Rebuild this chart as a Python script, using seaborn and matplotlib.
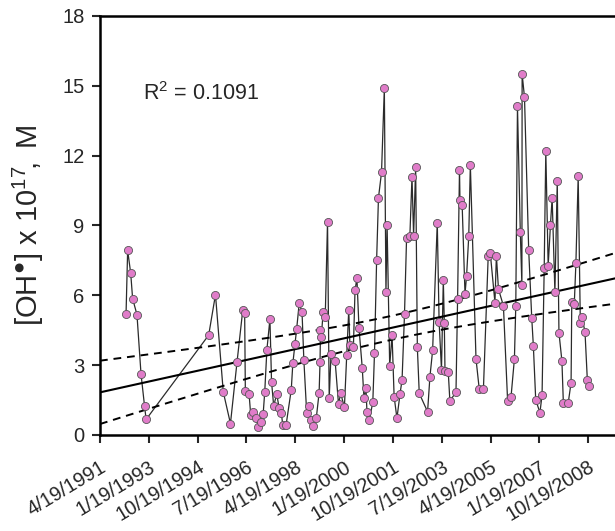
import matplotlib
matplotlib.use("Agg")
import matplotlib.pyplot as plt
import matplotlib.dates as mdates
import numpy as np
import pandas as pd
import seaborn as sns

# sampling dates and [OH] values (x 10^17 M)
dates = [
    "1992-03-25", "1992-04-15", "1992-05-25", "1992-06-19", "1992-08-15", "1992-10-07",
    "1992-11-22", "1992-12-13", "1995-03-12", "1995-06-09", "1995-09-19", "1995-12-22",
    "1996-03-17", "1996-05-31", "1996-06-25", "1996-07-04", "1996-08-22", "1996-09-12",
    "1996-10-16", "1996-11-19", "1996-12-22", "1997-01-25", "1997-02-22", "1997-03-15",
    "1997-04-12", "1997-05-22", "1997-06-12", "1997-07-10", "1997-08-19", "1997-09-19",
    "1997-10-19", "1997-11-06", "1997-12-19", "1998-02-25", "1998-03-18", "1998-04-15",
    "1998-05-07", "1998-06-09", "1998-07-16", "1998-08-09", "1998-09-15", "1998-10-16",
    "1998-11-06", "1998-12-13", "1999-01-19", "1999-02-25", "1999-03-09", "1999-03-15",
    "1999-03-25", "1999-04-19", "1999-05-16", "1999-06-15", "1999-07-07", "1999-07-31",
    "1999-09-22", "1999-11-06", "1999-12-04", "2000-01-22", "2000-02-22", "2000-03-19",
    "2000-04-03", "2000-05-19", "2000-06-09", "2000-07-04", "2000-07-31", "2000-09-12",
    "2000-10-04", "2000-10-31", "2000-11-12", "2000-12-13", "2001-01-28", "2001-02-19",
    "2001-03-19", "2001-04-12", "2001-05-22", "2001-06-28", "2001-07-19", "2001-08-03",
    "2001-09-06", "2001-10-07", "2001-11-03", "2001-12-10", "2002-01-19", "2002-02-15",
    "2002-03-19", "2002-04-15", "2002-05-28", "2002-06-25", "2002-07-16", "2002-08-12",
    "2002-09-03", "2002-09-28", "2003-01-15", "2003-02-15", "2003-03-22", "2003-05-22",
    "2003-06-15", "2003-07-16", "2003-08-09", "2003-08-22", "2003-08-31", "2003-10-13",
    "2003-11-03", "2004-01-22", "2004-02-12", "2004-03-08", "2004-03-14", "2004-04-12",
    "2004-05-19", "2004-06-09", "2004-07-07", "2004-07-28", "2004-10-10", "2004-11-22",
    "2005-01-15", "2005-03-19", "2005-04-15", "2005-06-15", "2005-07-04", "2005-07-31",
    "2005-10-04", "2005-11-28", "2006-01-12", "2006-02-25", "2006-03-15", "2006-04-06",
    "2006-05-13", "2006-06-03", "2006-06-06", "2006-07-07", "2006-08-31", "2006-10-10",
    "2006-10-31", "2006-12-01", "2007-01-25", "2007-02-22", "2007-03-22", "2007-04-12",
    "2007-05-13", "2007-06-12", "2007-07-04", "2007-08-09", "2007-09-09", "2007-10-01",
    "2007-11-09", "2007-11-28", "2008-01-31", "2008-03-08", "2008-03-17", "2008-04-19",
    "2008-05-10", "2008-06-09", "2008-07-07", "2008-07-25", "2008-09-06", "2008-10-07",
    "2008-11-03",
]
oh = [
    5.20, 7.93, 6.95, 5.86, 5.17, 2.62,
    1.25, 0.67, 4.29, 6.03, 1.85, 0.49,
    3.13, 5.36, 5.23, 1.88, 1.76, 0.87,
    1.00, 0.72, 0.36, 0.57, 0.89, 1.85,
    3.66, 4.98, 2.29, 1.25, 1.76, 1.17,
    0.93, 0.42, 0.42, 1.94, 3.08, 3.90,
    4.56, 5.65, 5.30, 3.23, 0.96, 1.26,
    0.65, 0.39, 0.73, 1.82, 3.13, 4.52,
    4.20, 5.28, 5.05, 9.17, 1.58, 3.48,
    3.20, 1.32, 1.79, 1.19, 3.44, 5.38,
    3.87, 3.80, 6.21, 6.74, 4.59, 2.87,
    1.60, 2.00, 1.00, 0.63, 1.42, 3.51,
    7.53, 10.19, 11.28, 14.91, 6.14, 9.03,
    2.97, 4.30, 1.65, 0.72, 1.76, 2.37,
    5.20, 8.46, 8.53, 11.10, 8.56, 11.50,
    3.77, 1.79, 1.00, 2.51, 3.63, 9.12,
    4.87, 2.80, 6.67, 4.83, 2.77, 2.70,
    1.46, 1.84, 5.84, 11.40, 10.10, 9.86,
    6.06, 6.85, 8.53, 11.61, 3.27, 1.96,
    1.96, 7.70, 7.81, 5.69, 7.71, 6.27,
    5.55, 1.46, 1.65, 3.27, 5.56, 14.12,
    8.73, 6.45, 15.51, 14.51, 7.95, 5.02,
    3.83, 1.51, 0.96, 1.72, 7.17, 12.20,
    7.27, 9.03, 10.19, 6.14, 10.90, 4.40,
    3.18, 1.36, 1.39, 2.25, 5.71, 5.63,
    7.38, 11.11, 4.83, 5.09, 4.44, 2.35,
    2.11,
]

tick_dates = ["1991-04-19", "1993-01-19", "1994-10-19", "1996-07-19", "1998-04-19",
              "2000-01-19", "2001-10-19", "2003-07-19", "2005-04-19", "2007-01-19",
              "2008-10-19"]
tick_labels = ["4/19/1991", "1/19/1993", "10/19/1994", "7/19/1996", "4/19/1998",
               "1/19/2000", "10/19/2001", "7/19/2003", "4/19/2005", "1/19/2007",
               "10/19/2008"]
x_range = ["1991-04-19", "2009-10-04"]
r2_label = "R$^2$ = 0.1091"
y_label = "$\\mathregular{[OH^{\u25CF}]\\ x\\ 10^{17}\\!,\\ M}$"

sns.set_style("ticks")
plt.rcParams["font.family"] = ["Liberation Sans", "DejaVu Sans"]
plt.rcParams["mathtext.fontset"] = "custom"
plt.rcParams["mathtext.rm"] = "Liberation Sans"
plt.rcParams["mathtext.it"] = "Liberation Sans:italic"
plt.rcParams["mathtext.fallback"] = "stixsans"

df = pd.DataFrame({"date": pd.to_datetime(dates), "oh": oh})
df["t"] = mdates.date2num(df["date"])
xlim = mdates.date2num(pd.to_datetime(x_range))

fig = plt.figure(figsize=(6.15, 5.31), dpi=100)
ax = fig.add_axes([0.1626, 0.1808, 0.8374, 0.7891])
ax.set_xlim(xlim)
ax.set_ylim(0, 18)

# connecting line + points
sns.lineplot(data=df, x="t", y="oh", estimator=None, color="#2b2b2b", lw=0.9, ax=ax)
sns.scatterplot(data=df, x="t", y="oh", color="#E07CC9", edgecolor="#555555",
                s=34, linewidth=0.6, zorder=3, ax=ax)

# linear fit across the full axis
sns.regplot(data=df, x="t", y="oh", scatter=False, ci=None, truncate=False,
            line_kws={"color": "black", "lw": 1.5}, ax=ax)

# 95% confidence band of the fit, dashed
x = df["t"].to_numpy()
y = df["oh"].to_numpy()
n = len(x)
slope, intercept = np.polyfit(x, y, 1)
resid = y - (slope * x + intercept)
s = np.sqrt(np.sum(resid ** 2) / (n - 2))
xs = np.linspace(xlim[0], xlim[1], 200)
half = 1.975 * s * np.sqrt(1 / n + (xs - x.mean()) ** 2 / np.sum((x - x.mean()) ** 2))
fit = slope * xs + intercept
ax.plot(xs, fit + half, color="black", lw=1.4, ls=(0, (4, 3)))
ax.plot(xs, fit - half, color="black", lw=1.4, ls=(0, (4, 3)))

ax.text(0.083, 0.815, r2_label, transform=ax.transAxes, fontsize=15.5,
        va="center", ha="left")

ax.set_xticks(mdates.date2num(pd.to_datetime(tick_dates)))
ax.set_xticklabels(tick_labels, rotation=31, ha="right", rotation_mode="anchor")
ax.set_yticks(np.arange(0, 19, 3))
ax.tick_params(direction="out", length=6, width=1.5, labelsize=14.5, pad=5)
ax.tick_params(axis="x", labelsize=14.3, pad=10)
ax.set_xlabel("")
ax.set_ylabel(y_label, fontsize=21, labelpad=12)

for side in ["left", "bottom", "top"]:
    ax.spines[side].set_linewidth(1.8)
    ax.spines[side].set_color("black")
ax.spines["right"].set_visible(False)

fig.savefig("out.png", dpi=100)
